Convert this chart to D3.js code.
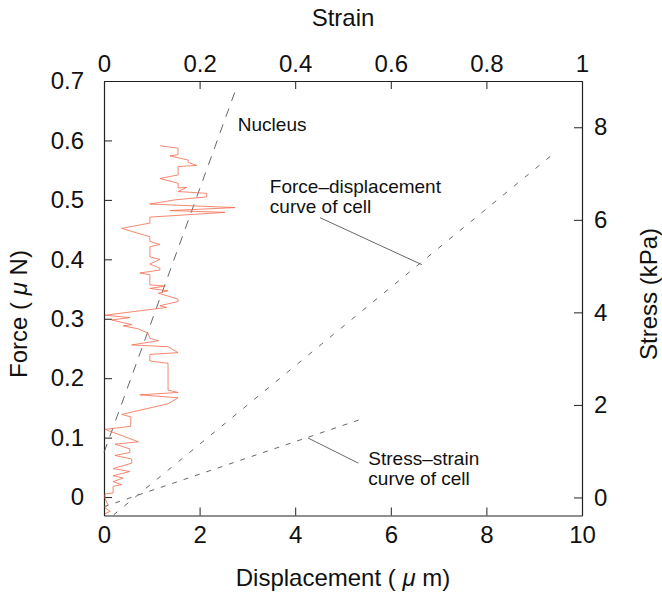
<!DOCTYPE html>
<html>
<head>
<meta charset="utf-8">
<script src="https://cdn.jsdelivr.net/npm/d3@7"></script>
<style>
    body { margin: 0; background: #fff; }
    svg { font-family: 'Liberation Sans', Arial, sans-serif; }
    .axis path, .axis line { stroke: #222; }
    .axis text { font-size: 24px; fill: #111; }
</style>
</head>
<body>
<svg></svg>
<script>

// ticks
const dispTicks = [0, 2, 4, 6, 8, 10],
    forceTicks = [0, 0.1, 0.2, 0.3, 0.4, 0.5, 0.6, 0.7],
    strainTicks = [0, 0.2, 0.4, 0.6, 0.8, 1],
    stressTicks = [0, 2, 4, 6, 8];

// measured trace (displacement um, force uN), read bottom to top
const traceDisp = [0.02, 0.13, 0.02, 0.08, 0.02, 0.02, 0.19, 0.19, 0.37, 0.19, 0.40, 0.19,
    0.54, 0.19, 0.58, 0.58, 0.23, 0.54, 0.54, 0.23, 0.72, 0.02, 0.56, 0.56, 0.37, 1.34,
    1.55, 0.75, 1.55, 1.34, 1.34, 0.96, 0.96, 1.55, 1.34, 0.58, 1.14, 0.96, 0.92, 0.72,
    0.40, 0.58, 0.16, 0.54, 0.02, 1.31, 1.17, 1.55, 1.55, 1.14, 1.34, 0.96, 1.28, 0.96,
    0.96, 0.75, 1.17, 1.17, 0.96, 1.17, 0.96, 0.96, 1.17, 0.96, 0.96, 0.37, 0.96, 0.96,
    2.53, 1.38, 2.74, 0.96, 1.48, 2.15, 2.15, 1.55, 1.73, 1.55, 1.55, 1.17, 1.55, 1.55,
    1.94, 1.76, 1.76, 1.38, 1.55, 1.55, 1.17];
const traceForce = [-0.028, -0.024, -0.018, -0.013, -0.002, 0.005, 0.007, 0.018, 0.021, 0.026, 0.032, 0.036,
    0.043, 0.048, 0.057, 0.064, 0.070, 0.075, 0.081, 0.089, 0.093, 0.114, 0.119, 0.135, 0.139, 0.157,
    0.167, 0.172, 0.176, 0.180, 0.225, 0.229, 0.240, 0.243, 0.253, 0.256, 0.263, 0.267, 0.276, 0.283,
    0.288, 0.290, 0.298, 0.302, 0.306, 0.319, 0.322, 0.329, 0.333, 0.343, 0.347, 0.351, 0.355, 0.357,
    0.374, 0.377, 0.382, 0.385, 0.392, 0.400, 0.404, 0.421, 0.425, 0.430, 0.438, 0.452, 0.461, 0.471,
    0.479, 0.482, 0.487, 0.493, 0.500, 0.505, 0.511, 0.514, 0.521, 0.520, 0.528, 0.536, 0.542, 0.556,
    0.558, 0.563, 0.567, 0.574, 0.576, 0.587, 0.591];

// fitted lines
const nucleusDisp = [0, 2.74],
    nucleusForce = [0.075, 0.682],
    cellDisp = [0.2, 9.44],
    cellForce = [-0.03, 0.58],
    cellStrain = [0, 0.546],
    cellStress = [-0.2, 1.72];

// leader lines of the annotations
const fdLeaderDisp = [4.52, 6.65],
    fdLeaderForce = [0.47, 0.391],
    ssLeaderStrain = [0.427, 0.532],
    ssLeaderStress = [1.284, 0.742];

var W = 662, H = 595,
    plot = {left: 104, right: 582, top: 81, bottom: 515.5};

var svg = d3.select('svg')
    .attr('width', W)
    .attr('height', H);

var x = d3.scaleLinear().domain([0, 10]).range([plot.left, plot.right]),
    xs = d3.scaleLinear().domain([0, 1]).range([plot.left, plot.right]),
    y = d3.scaleLinear().domain([-0.031, 0.7]).range([plot.bottom, plot.top]),
    ys = d3.scaleLinear().domain([-0.39, 9.0]).range([plot.bottom, plot.top]);

var fmt = function(d) { return String(+d.toFixed(1)); };

svg.append('g')
    .attr('class', 'axis')
    .attr('transform', 'translate(0,' + plot.bottom + ')')
    .call(d3.axisBottom(x).tickValues(dispTicks).tickFormat(fmt)
        .tickSizeInner(-8).tickSizeOuter(0).tickPadding(10));

svg.append('g')
    .attr('class', 'axis')
    .attr('transform', 'translate(0,' + plot.top + ')')
    .call(d3.axisTop(xs).tickValues(strainTicks).tickFormat(fmt)
        .tickSizeInner(-8).tickSizeOuter(0).tickPadding(9));

svg.append('g')
    .attr('class', 'axis')
    .attr('transform', 'translate(' + plot.left + ',0)')
    .call(d3.axisLeft(y).tickValues(forceTicks).tickFormat(fmt)
        .tickSizeInner(-8).tickSizeOuter(0).tickPadding(20));

svg.append('g')
    .attr('class', 'axis')
    .attr('transform', 'translate(' + plot.right + ',0)')
    .call(d3.axisRight(ys).tickValues(stressTicks).tickFormat(fmt)
        .tickSizeInner(-8).tickSizeOuter(0).tickPadding(12));

svg.selectAll('.axis .domain').attr('stroke-width', 1.2);

function pairs(a, b) {
    return a.map(function(v, i) { return [v, b[i]]; });
}

var line = d3.line()
    .x(function(d) { return x(d[0]); })
    .y(function(d) { return y(d[1]); });

var lineS = d3.line()
    .x(function(d) { return xs(d[0]); })
    .y(function(d) { return ys(d[1]); });

svg.append('path')
    .attr('d', line(pairs(nucleusDisp, nucleusForce)))
    .attr('fill', 'none')
    .attr('stroke', '#555')
    .attr('stroke-width', 0.9)
    .attr('stroke-dasharray', '9,8');

svg.append('path')
    .attr('d', line(pairs(cellDisp, cellForce)))
    .attr('fill', 'none')
    .attr('stroke', '#555')
    .attr('stroke-width', 0.9)
    .attr('stroke-dasharray', '5,9');

svg.append('path')
    .attr('d', lineS(pairs(cellStrain, cellStress)))
    .attr('fill', 'none')
    .attr('stroke', '#555')
    .attr('stroke-width', 0.9)
    .attr('stroke-dasharray', '5,7');

svg.append('path')
    .attr('d', line(pairs(traceDisp, traceForce)))
    .attr('fill', 'none')
    .attr('stroke', '#f36a4c')
    .attr('stroke-width', 0.8)
    .attr('stroke-linejoin', 'round');

svg.append('path')
    .attr('d', line(pairs(fdLeaderDisp, fdLeaderForce)))
    .attr('stroke', '#555')
    .attr('stroke-width', 0.9);

svg.append('path')
    .attr('d', lineS(pairs(ssLeaderStrain, ssLeaderStress)))
    .attr('stroke', '#555')
    .attr('stroke-width', 0.9);

// annotations
function label(px, py, lines) {
    var t = svg.append('text')
        .attr('x', px)
        .attr('y', py)
        .attr('font-size', 19)
        .attr('fill', '#111');
    lines.forEach(function(s, i) {
        t.append('tspan').attr('x', px).attr('dy', i ? 20 : 0).text(s);
    });
}

label(x(2.8), y(0.616), ['Nucleus']);
label(x(3.47), y(0.512), ['Force\u2013displacement', 'curve of cell']);
label(x(5.53), y(0.054), ['Stress\u2013strain', 'curve of cell']);

// axis titles, with an italic mu
function title(sel, before, after) {
    sel.attr('text-anchor', 'middle').attr('font-size', 24).attr('fill', '#111');
    sel.append('tspan').text(before);
    if (after !== undefined) {
        sel.append('tspan').attr('font-style', 'italic').text('\u03bc');
        sel.append('tspan').text(after);
    }
}

title(svg.append('text')
    .attr('x', (plot.left + plot.right) / 2)
    .attr('y', 26), 'Strain');

title(svg.append('text')
    .attr('x', (plot.left + plot.right) / 2)
    .attr('y', 586), 'Displacement ( ', ' m)');

title(svg.append('text')
    .attr('transform', 'translate(27,314) rotate(-90)'), 'Force ( ', ' N)');

title(svg.append('text')
    .attr('transform', 'translate(657,294) rotate(-90)'), 'Stress (kPa)');

</script>
</body>
</html>
